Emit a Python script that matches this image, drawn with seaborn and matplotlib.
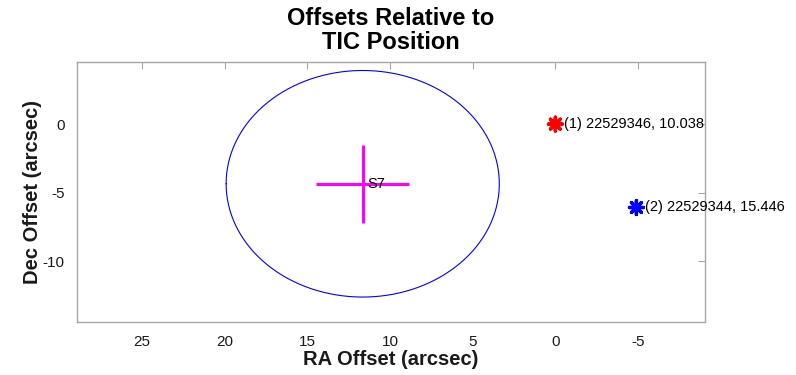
import numpy as np
import pandas as pd
import matplotlib
matplotlib.use("Agg")
import matplotlib.pyplot as plt
import seaborn as sns

# Catalog stars near the target (RA / Dec offsets in arcsec)
star_ra = [0.0, -4.9]
star_dec = [0.0, -6.08]
star_labels = ["(1) 22529346, 10.038", "(2) 22529344, 15.446"]
star_colors = ["#ff0000", "#0000ff"]

# Difference-image centroid for sector 7 and its uncertainty
centroid_name = "S7"
centroid_ra = 11.65
centroid_dec = -4.35
centroid_err_ra = 2.82
centroid_err_dec = 2.86
circle_radius = 8.26

x_ticks = [25, 20, 15, 10, 5, 0, -5]
y_ticks = [-10, -5, 0]

sns.set_style("white")
plt.rcParams["font.family"] = ["Liberation Sans", "DejaVu Sans"]
plt.rcParams["axes.unicode_minus"] = False

fig = plt.figure(figsize=(7.96, 3.75), dpi=100)
ax = fig.add_axes([0.0967, 0.1413, 0.789, 0.6934])

# Uncertainty circle around the centroid
theta = np.linspace(0, 2 * np.pi, 400)
circle = pd.DataFrame({
    "ra": centroid_ra + circle_radius * np.cos(theta),
    "dec": centroid_dec + circle_radius * np.sin(theta),
})
sns.lineplot(data=circle, x="ra", y="dec", sort=False, estimator=None,
             color="#0000ff", linewidth=0.8, ax=ax)

# Centroid cross
ax.errorbar(centroid_ra, centroid_dec, xerr=centroid_err_ra, yerr=centroid_err_dec,
            fmt="none", ecolor="#ff00ff", elinewidth=2.2, capsize=0)
ax.annotate(centroid_name, (centroid_ra, centroid_dec), xytext=(3.5, 0),
            textcoords="offset points", va="center", ha="left", fontsize=10.5,
            color="black")

# Catalog stars
stars = pd.DataFrame({"ra": star_ra, "dec": star_dec, "label": star_labels})
sns.scatterplot(data=stars, x="ra", y="dec", hue="label",
                palette=dict(zip(star_labels, star_colors)),
                marker=(8, 2, 0), s=100, linewidth=2.4, legend=False,
                ax=ax, clip_on=False, zorder=5)
for ra, dec, lab in zip(star_ra, star_dec, star_labels):
    ax.annotate(lab, (ra, dec), xytext=(6.5, 0), textcoords="offset points",
                va="center", ha="left", fontsize=10.5, color="black",
                annotation_clip=False)

ax.set_xlim(28.93, -9.05)
ax.set_ylim(-14.43, 4.53)
ax.set_xticks(x_ticks)
ax.set_yticks(y_ticks)

spine_color = "#a6a6a6"
for sp in ax.spines.values():
    sp.set_color(spine_color)
    sp.set_linewidth(1.0)
ax.tick_params(direction="in", length=4.8, width=0.8, color=spine_color,
               top=True, right=True, labelsize=11, labelcolor="#1a1a1a", pad=9)

ax.set_xlabel("RA Offset (arcsec)", fontsize=14.5, fontweight="bold", color="#1a1a1a", labelpad=1)
ax.set_ylabel("Dec Offset (arcsec)", fontsize=14.5, fontweight="bold", color="#1a1a1a", labelpad=0)
ax.set_title("Offsets Relative to\nTIC Position", fontsize=17, fontweight="bold",
             linespacing=1.08, pad=9, color="black")

fig.savefig("out.png", dpi=100)
